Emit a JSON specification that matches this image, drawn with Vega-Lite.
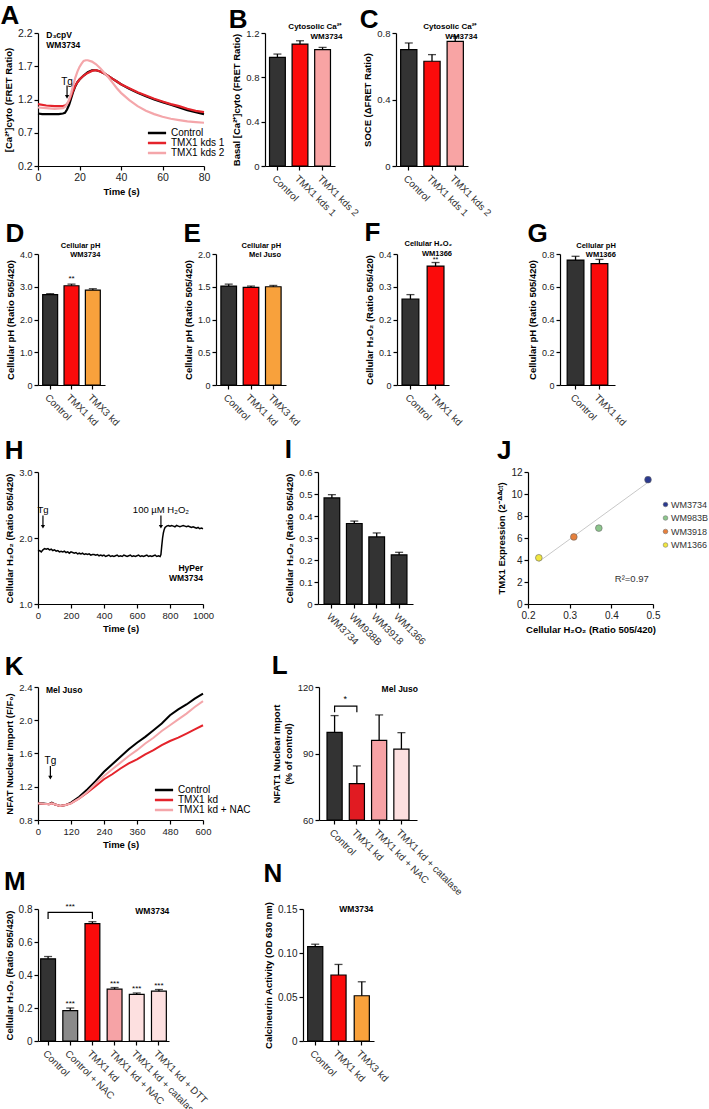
{
 "$schema": "https://vega.github.io/schema/vega-lite/v6.json",
 "background": "white",
 "padding": {"left": 0, "top": 3, "right": 0, "bottom": 0},
 "config": {
  "font": "Liberation Sans",
  "view": {"stroke": null},
  "axis": {"grid": false, "domainColor": "#000", "domainWidth": 1.2, "tickColor": "#000", "tickWidth": 1.2, "tickSize": 4, "tickCount": 20, "labelFontSize": 9.5, "labelColor": "#222", "labelPadding": 2, "labelOverlap": false, "labelFlush": false, "titleFontSize": 9.5, "titleFontWeight": "bold", "titleColor": "#000", "titlePadding": 4},
  "title": {"fontSize": 26, "fontWeight": "bold", "anchor": "start", "frame": "bounds", "color": "#000", "offset": 0},
  "legend": {"labelFontSize": 10, "labelColor": "#000", "padding": 0, "rowPadding": 1}
 },
 "resolve": {"scale": {"color": "independent"}, "legend": {"color": "independent"}},
 "spacing": 2,
 "vconcat": [
  {
   "hconcat": [
    {
     "width": 166, "height": 133,
     "title": {"text": "A", "offset": -1, "dx": -3},
     "layer": [
      {
       "data": {"values": [
        {"s": "Control", "t": 0, "r": 0.99}, {"s": "Control", "t": 2, "r": 0.98}, {"s": "Control", "t": 4, "r": 0.98}, {"s": "Control", "t": 6, "r": 0.98}, {"s": "Control", "t": 8, "r": 0.98}, {"s": "Control", "t": 10, "r": 0.98}, {"s": "Control", "t": 12, "r": 0.99}, {"s": "Control", "t": 13, "r": 1.0}, {"s": "Control", "t": 14, "r": 1.05}, {"s": "Control", "t": 15, "r": 1.12}, {"s": "Control", "t": 16, "r": 1.22}, {"s": "Control", "t": 17, "r": 1.32}, {"s": "Control", "t": 18, "r": 1.4}, {"s": "Control", "t": 19, "r": 1.46}, {"s": "Control", "t": 20, "r": 1.5}, {"s": "Control", "t": 22, "r": 1.56}, {"s": "Control", "t": 24, "r": 1.61}, {"s": "Control", "t": 26, "r": 1.64}, {"s": "Control", "t": 28, "r": 1.64}, {"s": "Control", "t": 30, "r": 1.62}, {"s": "Control", "t": 32, "r": 1.59}, {"s": "Control", "t": 34, "r": 1.55}, {"s": "Control", "t": 36, "r": 1.51}, {"s": "Control", "t": 38, "r": 1.47}, {"s": "Control", "t": 40, "r": 1.43}, {"s": "Control", "t": 44, "r": 1.36}, {"s": "Control", "t": 48, "r": 1.3}, {"s": "Control", "t": 52, "r": 1.25}, {"s": "Control", "t": 56, "r": 1.2}, {"s": "Control", "t": 60, "r": 1.16}, {"s": "Control", "t": 64, "r": 1.12}, {"s": "Control", "t": 68, "r": 1.08}, {"s": "Control", "t": 72, "r": 1.04}, {"s": "Control", "t": 76, "r": 1.01}, {"s": "Control", "t": 80, "r": 0.98},
        {"s": "TMX1 kds 1", "t": 0, "r": 1.13}, {"s": "TMX1 kds 1", "t": 4, "r": 1.11}, {"s": "TMX1 kds 1", "t": 8, "r": 1.1}, {"s": "TMX1 kds 1", "t": 12, "r": 1.1}, {"s": "TMX1 kds 1", "t": 13, "r": 1.11}, {"s": "TMX1 kds 1", "t": 14, "r": 1.13}, {"s": "TMX1 kds 1", "t": 15, "r": 1.18}, {"s": "TMX1 kds 1", "t": 16, "r": 1.26}, {"s": "TMX1 kds 1", "t": 17, "r": 1.34}, {"s": "TMX1 kds 1", "t": 18, "r": 1.41}, {"s": "TMX1 kds 1", "t": 19, "r": 1.46}, {"s": "TMX1 kds 1", "t": 20, "r": 1.5}, {"s": "TMX1 kds 1", "t": 22, "r": 1.56}, {"s": "TMX1 kds 1", "t": 24, "r": 1.6}, {"s": "TMX1 kds 1", "t": 26, "r": 1.63}, {"s": "TMX1 kds 1", "t": 28, "r": 1.64}, {"s": "TMX1 kds 1", "t": 30, "r": 1.62}, {"s": "TMX1 kds 1", "t": 32, "r": 1.59}, {"s": "TMX1 kds 1", "t": 34, "r": 1.55}, {"s": "TMX1 kds 1", "t": 36, "r": 1.51}, {"s": "TMX1 kds 1", "t": 38, "r": 1.47}, {"s": "TMX1 kds 1", "t": 40, "r": 1.43}, {"s": "TMX1 kds 1", "t": 44, "r": 1.37}, {"s": "TMX1 kds 1", "t": 48, "r": 1.31}, {"s": "TMX1 kds 1", "t": 52, "r": 1.26}, {"s": "TMX1 kds 1", "t": 56, "r": 1.21}, {"s": "TMX1 kds 1", "t": 60, "r": 1.17}, {"s": "TMX1 kds 1", "t": 64, "r": 1.13}, {"s": "TMX1 kds 1", "t": 68, "r": 1.1}, {"s": "TMX1 kds 1", "t": 72, "r": 1.06}, {"s": "TMX1 kds 1", "t": 76, "r": 1.03}, {"s": "TMX1 kds 1", "t": 80, "r": 1.01},
        {"s": "TMX1 kds 2", "t": 0, "r": 1.08}, {"s": "TMX1 kds 2", "t": 4, "r": 1.07}, {"s": "TMX1 kds 2", "t": 8, "r": 1.06}, {"s": "TMX1 kds 2", "t": 12, "r": 1.07}, {"s": "TMX1 kds 2", "t": 13, "r": 1.09}, {"s": "TMX1 kds 2", "t": 14, "r": 1.13}, {"s": "TMX1 kds 2", "t": 15, "r": 1.2}, {"s": "TMX1 kds 2", "t": 16, "r": 1.3}, {"s": "TMX1 kds 2", "t": 17, "r": 1.42}, {"s": "TMX1 kds 2", "t": 18, "r": 1.53}, {"s": "TMX1 kds 2", "t": 19, "r": 1.62}, {"s": "TMX1 kds 2", "t": 20, "r": 1.69}, {"s": "TMX1 kds 2", "t": 21, "r": 1.74}, {"s": "TMX1 kds 2", "t": 22, "r": 1.78}, {"s": "TMX1 kds 2", "t": 23, "r": 1.79}, {"s": "TMX1 kds 2", "t": 24, "r": 1.79}, {"s": "TMX1 kds 2", "t": 26, "r": 1.77}, {"s": "TMX1 kds 2", "t": 28, "r": 1.73}, {"s": "TMX1 kds 2", "t": 30, "r": 1.67}, {"s": "TMX1 kds 2", "t": 32, "r": 1.6}, {"s": "TMX1 kds 2", "t": 34, "r": 1.53}, {"s": "TMX1 kds 2", "t": 36, "r": 1.45}, {"s": "TMX1 kds 2", "t": 38, "r": 1.37}, {"s": "TMX1 kds 2", "t": 40, "r": 1.3}, {"s": "TMX1 kds 2", "t": 44, "r": 1.19}, {"s": "TMX1 kds 2", "t": 48, "r": 1.1}, {"s": "TMX1 kds 2", "t": 52, "r": 1.03}, {"s": "TMX1 kds 2", "t": 56, "r": 0.98}, {"s": "TMX1 kds 2", "t": 60, "r": 0.94}, {"s": "TMX1 kds 2", "t": 64, "r": 0.91}, {"s": "TMX1 kds 2", "t": 68, "r": 0.89}, {"s": "TMX1 kds 2", "t": 72, "r": 0.87}, {"s": "TMX1 kds 2", "t": 76, "r": 0.86}, {"s": "TMX1 kds 2", "t": 80, "r": 0.85}
       ]},
       "mark": {"type": "line", "strokeWidth": 2.2},
       "encoding": {
        "x": {"field": "t", "type": "quantitative", "scale": {"domain": [0, 80], "nice": false}, "axis": {"title": "Time (s)", "values": [0, 20, 40, 60, 80], "tickCount": 20, "labelFontSize": 10.5, "titleFontSize": 9.5}},
        "y": {"field": "r", "type": "quantitative", "scale": {"domain": [0.2, 2.2], "nice": false, "zero": false}, "axis": {"title": "[Ca²⁺]cyto (FRET Ratio)", "values": [0.2, 0.7, 1.2, 1.7, 2.2], "tickCount": 20, "format": ".1f", "labelFontSize": 10.5}},
        "color": {"field": "s", "type": "nominal", "scale": {"domain": ["Control", "TMX1 kds 1", "TMX1 kds 2"], "range": ["#000000", "#e4232b", "#f4a6aa"]}, "legend": {"title": null, "orient": "none", "legendX": 114, "legendY": 95, "symbolType": "M-2.6,0H2.6", "symbolStrokeWidth": 2.5, "symbolSize": 49, "labelFontSize": 10, "labelOffset": 9, "rowPadding": -1.5}}
       }
      },
      {"data": {"values": [{"x": 14, "yt": 1.47, "y1": 1.41, "y2": 1.24, "lab": "Tg"}]},
       "layer": [
        {"mark": {"type": "text", "fontSize": 10, "baseline": "middle", "color": "#000"}, "encoding": {"x": {"field": "x", "type": "quantitative"}, "y": {"field": "yt", "type": "quantitative"}, "text": {"field": "lab"}}},
        {"mark": {"type": "rule", "strokeWidth": 1.2, "color": "#000"}, "encoding": {"x": {"field": "x", "type": "quantitative"}, "y": {"field": "y1", "type": "quantitative"}, "y2": {"field": "y2"}}},
        {"mark": {"type": "point", "shape": "triangle-down", "filled": true, "size": 18, "color": "#000", "opacity": 1}, "encoding": {"x": {"field": "x", "type": "quantitative"}, "y": {"field": "y2", "type": "quantitative"}}}
       ]},
      {"data": {"values": [{"x": 4, "y": 2.2, "t": "D₃cpV\nWM3734"}]},
       "mark": {"type": "text", "align": "left", "baseline": "top", "fontWeight": "bold", "fontSize": 8.5, "lineBreak": "\n", "lineHeight": 10, "dy": -2, "color": "#000"},
       "encoding": {"x": {"field": "x", "type": "quantitative"}, "y": {"field": "y", "type": "quantitative"}, "text": {"field": "t"}}}
     ]
    },
    {
     "width": 70, "height": 133,
     "title": {"text": "B", "offset": -10, "dx": -3},
     "data": {"values": [
      {"g": "Control", "v": 0.98, "hi": 1.01},
      {"g": "TMX1 kds 1", "v": 1.1, "hi": 1.13},
      {"g": "TMX1 kds 2", "v": 1.05, "hi": 1.07}
     ]},
     "encoding": {"x": {"field": "g", "type": "nominal", "sort": null, "scale": {"paddingInner": 0.3, "paddingOuter": 0.2}, "axis": {"title": null, "labelAngle": 45, "labelFontSize": 10, "labelColor": "#333", "labelPadding": 3}}},
     "layer": [
      {"mark": {"type": "bar", "stroke": "#000", "strokeWidth": 1.2}, "encoding": {"y": {"field": "v", "type": "quantitative", "scale": {"domain": [0, 1.2], "nice": false}, "axis": {"title": "Basal [Ca²⁺]cyto (FRET Ratio)", "values": [0, 0.4, 0.8, 1.2], "tickCount": 20, "labelExpr": "datum.value == 0 ? '0' : format(datum.value, '.1f')"}}, "color": {"field": "g", "type": "nominal", "scale": {"domain": ["Control", "TMX1 kds 1", "TMX1 kds 2"], "range": ["#333333", "#fb0b0b", "#f8a4a4"]}, "legend": null}}},
      {"mark": {"type": "rule", "color": "#000", "strokeWidth": 1.3}, "encoding": {"y": {"field": "v", "type": "quantitative"}, "y2": {"field": "hi"}}},
      {"mark": {"type": "tick", "color": "#000", "thickness": 1.3, "size": 8}, "encoding": {"y": {"field": "hi", "type": "quantitative"}}},
      {"data": {"values": [{"g": "TMX1 kds 2", "y": 1.2, "t": "Cytosolic Ca²⁺\nWM3734"}]},
       "mark": {"type": "text", "align": "right", "baseline": "bottom", "fontWeight": "bold", "fontSize": 8, "lineBreak": "\n", "lineHeight": 9.5, "dy": -2, "dx": 12, "color": "#000"},
       "encoding": {"x": {"field": "g", "type": "nominal", "sort": null, "bandPosition": 1}, "y": {"field": "y", "type": "quantitative"}, "text": {"field": "t"}}}
     ]
    },
    {
     "width": 72, "height": 133,
     "title": {"text": "C", "offset": -10, "dx": -3},
     "data": {"values": [
      {"g": "Control", "v": 0.7, "hi": 0.74},
      {"g": "TMX1 kds 1", "v": 0.63, "hi": 0.67},
      {"g": "TMX1 kds 2", "v": 0.75, "hi": 0.78}
     ]},
     "encoding": {"x": {"field": "g", "type": "nominal", "sort": null, "scale": {"paddingInner": 0.3, "paddingOuter": 0.2}, "axis": {"title": null, "labelAngle": 45, "labelFontSize": 10, "labelColor": "#333", "labelPadding": 3}}},
     "layer": [
      {"mark": {"type": "bar", "stroke": "#000", "strokeWidth": 1.2}, "encoding": {"y": {"field": "v", "type": "quantitative", "scale": {"domain": [0, 0.8], "nice": false}, "axis": {"title": "SOCE (ΔFRET Ratio)", "values": [0, 0.4, 0.8], "tickCount": 20, "labelExpr": "datum.value == 0 ? '0' : format(datum.value, '.1f')"}}, "color": {"field": "g", "type": "nominal", "scale": {"domain": ["Control", "TMX1 kds 1", "TMX1 kds 2"], "range": ["#333333", "#fb0b0b", "#f8a4a4"]}, "legend": null}}},
      {"mark": {"type": "rule", "color": "#000", "strokeWidth": 1.3}, "encoding": {"y": {"field": "v", "type": "quantitative"}, "y2": {"field": "hi"}}},
      {"mark": {"type": "tick", "color": "#000", "thickness": 1.3, "size": 8}, "encoding": {"y": {"field": "hi", "type": "quantitative"}}},
      {"data": {"values": [{"g": "TMX1 kds 2", "y": 0.8, "t": "Cytosolic Ca²⁺\nWM3734"}]},
       "mark": {"type": "text", "align": "right", "baseline": "bottom", "fontWeight": "bold", "fontSize": 8, "lineBreak": "\n", "lineHeight": 9.5, "dy": -2, "dx": 14, "color": "#000"},
       "encoding": {"x": {"field": "g", "type": "nominal", "sort": null, "bandPosition": 1}, "y": {"field": "y", "type": "quantitative"}, "text": {"field": "t"}}}
     ]
    }
   ],
   "spacing": 61, "bounds": "flush",
   "resolve": {"scale": {"color": "independent"}, "legend": {"color": "independent"}}
  },
  {
   "spacing": 9,
   "resolve": {"scale": {"color": "independent"}, "legend": {"color": "independent"}},
   "vconcat": [
    {
     "hconcat": [
      {
       "width": 67, "height": 131,
       "title": {"text": "D", "offset": -5},
       "data": {"values": [
        {"g": "Control", "v": 2.76, "hi": 2.79, "s": ""},
        {"g": "TMX1 kd", "v": 3.03, "hi": 3.08, "s": "**"},
        {"g": "TMX3 kd", "v": 2.9, "hi": 2.94, "s": ""}
       ]},
       "encoding": {"x": {"field": "g", "type": "nominal", "sort": null, "scale": {"paddingInner": 0.3, "paddingOuter": 0.22}, "axis": {"title": null, "labelAngle": 45, "labelFontSize": 10, "labelColor": "#333", "labelPadding": 3}}},
       "layer": [
        {"mark": {"type": "bar", "stroke": "#000", "strokeWidth": 1.2}, "encoding": {"y": {"field": "v", "type": "quantitative", "scale": {"domain": [0, 4], "nice": false}, "axis": {"title": "Cellular pH (Ratio 505/420)", "values": [0, 1, 2, 3, 4], "tickCount": 20, "labelFontSize": 9, "labelExpr": "datum.value == 0 ? '0' : format(datum.value, '.1f')"}}, "color": {"field": "g", "type": "nominal", "scale": {"domain": ["Control", "TMX1 kd", "TMX3 kd"], "range": ["#333333", "#fb0b0b", "#f8a13c"]}, "legend": null}}},
        {"mark": {"type": "rule", "color": "#000", "strokeWidth": 1.3}, "encoding": {"y": {"field": "v", "type": "quantitative"}, "y2": {"field": "hi"}}},
        {"mark": {"type": "tick", "color": "#000", "thickness": 1.3, "size": 8}, "encoding": {"y": {"field": "hi", "type": "quantitative"}}},
        {"mark": {"type": "text", "baseline": "bottom", "fontSize": 8, "dy": -1, "color": "#000"}, "encoding": {"y": {"field": "hi", "type": "quantitative"}, "text": {"field": "s"}}},
        {"data": {"values": [{"g": "TMX3 kd", "y": 4, "t": "Cellular pH\nWM3734"}]},
         "mark": {"type": "text", "align": "right", "baseline": "bottom", "fontWeight": "bold", "fontSize": 7.5, "lineBreak": "\n", "lineHeight": 9, "dy": -4, "dx": 0, "color": "#000"},
         "encoding": {"x": {"field": "g", "type": "nominal", "sort": null, "bandPosition": 1}, "y": {"field": "y", "type": "quantitative"}, "text": {"field": "t"}}}
       ]
      },
      {
       "width": 70, "height": 131,
       "title": {"text": "E", "offset": -5},
       "data": {"values": [
        {"g": "Control", "v": 1.51, "hi": 1.54},
        {"g": "TMX1 kd", "v": 1.49, "hi": 1.51},
        {"g": "TMX3 kd", "v": 1.5, "hi": 1.52}
       ]},
       "encoding": {"x": {"field": "g", "type": "nominal", "sort": null, "scale": {"paddingInner": 0.3, "paddingOuter": 0.22}, "axis": {"title": null, "labelAngle": 45, "labelFontSize": 10, "labelColor": "#333", "labelPadding": 3}}},
       "layer": [
        {"mark": {"type": "bar", "stroke": "#000", "strokeWidth": 1.2}, "encoding": {"y": {"field": "v", "type": "quantitative", "scale": {"domain": [0, 2], "nice": false}, "axis": {"title": "Cellular pH (Ratio 505/420)", "values": [0, 0.5, 1, 1.5, 2], "tickCount": 20, "labelFontSize": 9, "labelExpr": "datum.value == 0 ? '0' : format(datum.value, '.1f')"}}, "color": {"field": "g", "type": "nominal", "scale": {"domain": ["Control", "TMX1 kd", "TMX3 kd"], "range": ["#333333", "#fb0b0b", "#f8a13c"]}, "legend": null}}},
        {"mark": {"type": "rule", "color": "#000", "strokeWidth": 1.3}, "encoding": {"y": {"field": "v", "type": "quantitative"}, "y2": {"field": "hi"}}},
        {"mark": {"type": "tick", "color": "#000", "thickness": 1.3, "size": 8}, "encoding": {"y": {"field": "hi", "type": "quantitative"}}},
        {"data": {"values": [{"g": "TMX3 kd", "y": 2, "t": "Cellular pH\nMel Juso"}]},
         "mark": {"type": "text", "align": "right", "baseline": "bottom", "fontWeight": "bold", "fontSize": 7.5, "lineBreak": "\n", "lineHeight": 9, "dy": -4, "dx": 0, "color": "#000"},
         "encoding": {"x": {"field": "g", "type": "nominal", "sort": null, "bandPosition": 1}, "y": {"field": "y", "type": "quantitative"}, "text": {"field": "t"}}}
       ]
      },
      {
       "width": 52, "height": 131,
       "title": {"text": "F", "offset": -6},
       "data": {"values": [
        {"g": "Control", "v": 0.262, "hi": 0.276, "s": ""},
        {"g": "TMX1 kd", "v": 0.363, "hi": 0.374, "s": "**"}
       ]},
       "encoding": {"x": {"field": "g", "type": "nominal", "sort": null, "scale": {"paddingInner": 0.33, "paddingOuter": 0.2}, "axis": {"title": null, "labelAngle": 45, "labelFontSize": 10, "labelColor": "#333", "labelPadding": 3}}},
       "layer": [
        {"mark": {"type": "bar", "stroke": "#000", "strokeWidth": 1.2}, "encoding": {"y": {"field": "v", "type": "quantitative", "scale": {"domain": [0, 0.4], "nice": false}, "axis": {"title": "Cellular H₂O₂ (Ratio 505/420)", "values": [0, 0.1, 0.2, 0.3, 0.4], "tickCount": 20, "labelFontSize": 9, "labelExpr": "datum.value == 0 ? '0' : format(datum.value, '.1f')"}}, "color": {"field": "g", "type": "nominal", "scale": {"domain": ["Control", "TMX1 kd"], "range": ["#333333", "#fb0b0b"]}, "legend": null}}},
        {"mark": {"type": "rule", "color": "#000", "strokeWidth": 1.3}, "encoding": {"y": {"field": "v", "type": "quantitative"}, "y2": {"field": "hi"}}},
        {"mark": {"type": "tick", "color": "#000", "thickness": 1.3, "size": 8}, "encoding": {"y": {"field": "hi", "type": "quantitative"}}},
        {"mark": {"type": "text", "baseline": "bottom", "fontSize": 7, "dy": 0, "color": "#000"}, "encoding": {"y": {"field": "hi", "type": "quantitative"}, "text": {"field": "s"}}},
        {"data": {"values": [{"g": "TMX1 kd", "y": 0.4, "t": "Cellular H₂O₂\nWM1366"}]},
         "mark": {"type": "text", "align": "right", "baseline": "bottom", "fontWeight": "bold", "fontSize": 7.5, "lineBreak": "\n", "lineHeight": 9.5, "dy": -6, "dx": 8, "color": "#000"},
         "encoding": {"x": {"field": "g", "type": "nominal", "sort": null, "bandPosition": 1}, "y": {"field": "y", "type": "quantitative"}, "text": {"field": "t"}}}
       ]
      },
      {
       "width": 55, "height": 131,
       "title": {"text": "G", "offset": -5},
       "data": {"values": [
        {"g": "Control", "v": 0.763, "hi": 0.786},
        {"g": "TMX1 kd", "v": 0.741, "hi": 0.767}
       ]},
       "encoding": {"x": {"field": "g", "type": "nominal", "sort": null, "scale": {"paddingInner": 0.3, "paddingOuter": 0.3}, "axis": {"title": null, "labelAngle": 45, "labelFontSize": 10, "labelColor": "#333", "labelPadding": 3}}},
       "layer": [
        {"mark": {"type": "bar", "stroke": "#000", "strokeWidth": 1.2}, "encoding": {"y": {"field": "v", "type": "quantitative", "scale": {"domain": [0, 0.8], "nice": false}, "axis": {"title": "Cellular pH (Ratio 505/420)", "values": [0, 0.2, 0.4, 0.6, 0.8], "tickCount": 20, "labelFontSize": 9, "labelExpr": "datum.value == 0 ? '0' : format(datum.value, '.1f')"}}, "color": {"field": "g", "type": "nominal", "scale": {"domain": ["Control", "TMX1 kd"], "range": ["#333333", "#fb0b0b"]}, "legend": null}}},
        {"mark": {"type": "rule", "color": "#000", "strokeWidth": 1.3}, "encoding": {"y": {"field": "v", "type": "quantitative"}, "y2": {"field": "hi"}}},
        {"mark": {"type": "tick", "color": "#000", "thickness": 1.3, "size": 8}, "encoding": {"y": {"field": "hi", "type": "quantitative"}}},
        {"data": {"values": [{"g": "TMX1 kd", "y": 0.8, "t": "Cellular pH\nWM1366"}]},
         "mark": {"type": "text", "align": "right", "baseline": "bottom", "fontWeight": "bold", "fontSize": 7.5, "lineBreak": "\n", "lineHeight": 9, "dy": -4, "dx": 8, "color": "#000"},
         "encoding": {"x": {"field": "g", "type": "nominal", "sort": null, "bandPosition": 1}, "y": {"field": "y", "type": "quantitative"}, "text": {"field": "t"}}}
       ]
      }
     ],
     "spacing": 111, "bounds": "flush",
     "resolve": {"scale": {"color": "independent"}, "legend": {"color": "independent"}}
    },
    {
     "spacing": 5,
     "resolve": {"scale": {"color": "independent"}, "legend": {"color": "independent"}},
     "vconcat": [
      {
       "hconcat": [
        {
         "width": 165, "height": 132,
         "title": {"text": "H", "offset": 3},
         "layer": [
          {
           "data": {"values": [
            {"t": 0, "r": 1.8}, {"t": 10, "r": 1.81}, {"t": 20, "r": 1.79}, {"t": 30, "r": 1.82}, {"t": 40, "r": 1.84}, {"t": 50, "r": 1.83}, {"t": 60, "r": 1.84}, {"t": 70, "r": 1.82}, {"t": 80, "r": 1.83}, {"t": 90, "r": 1.81}, {"t": 100, "r": 1.82}, {"t": 110, "r": 1.8}, {"t": 120, "r": 1.81}, {"t": 130, "r": 1.79}, {"t": 140, "r": 1.8}, {"t": 150, "r": 1.79}, {"t": 160, "r": 1.8}, {"t": 170, "r": 1.78}, {"t": 180, "r": 1.79}, {"t": 190, "r": 1.77}, {"t": 200, "r": 1.79}, {"t": 210, "r": 1.78}, {"t": 220, "r": 1.77}, {"t": 230, "r": 1.78}, {"t": 240, "r": 1.76}, {"t": 250, "r": 1.77}, {"t": 260, "r": 1.76}, {"t": 270, "r": 1.77}, {"t": 280, "r": 1.75}, {"t": 290, "r": 1.76}, {"t": 300, "r": 1.75}, {"t": 310, "r": 1.76}, {"t": 320, "r": 1.74}, {"t": 330, "r": 1.75}, {"t": 340, "r": 1.75}, {"t": 350, "r": 1.74}, {"t": 360, "r": 1.75}, {"t": 370, "r": 1.73}, {"t": 380, "r": 1.74}, {"t": 390, "r": 1.73}, {"t": 400, "r": 1.74}, {"t": 410, "r": 1.72}, {"t": 420, "r": 1.73}, {"t": 430, "r": 1.74}, {"t": 440, "r": 1.72}, {"t": 450, "r": 1.73}, {"t": 460, "r": 1.72}, {"t": 470, "r": 1.73}, {"t": 480, "r": 1.74}, {"t": 490, "r": 1.72}, {"t": 500, "r": 1.73}, {"t": 510, "r": 1.72}, {"t": 520, "r": 1.74}, {"t": 530, "r": 1.73}, {"t": 540, "r": 1.72}, {"t": 550, "r": 1.73}, {"t": 560, "r": 1.74}, {"t": 570, "r": 1.72}, {"t": 580, "r": 1.73}, {"t": 590, "r": 1.72}, {"t": 600, "r": 1.73}, {"t": 610, "r": 1.74}, {"t": 620, "r": 1.72}, {"t": 630, "r": 1.73}, {"t": 640, "r": 1.72}, {"t": 650, "r": 1.73}, {"t": 660, "r": 1.74}, {"t": 670, "r": 1.72}, {"t": 680, "r": 1.73}, {"t": 690, "r": 1.72}, {"t": 700, "r": 1.73}, {"t": 710, "r": 1.74}, {"t": 720, "r": 1.72}, {"t": 730, "r": 1.73}, {"t": 740, "r": 1.72}, {"t": 745, "r": 1.75}, {"t": 750, "r": 1.88}, {"t": 755, "r": 2.0}, {"t": 760, "r": 2.08}, {"t": 765, "r": 2.13}, {"t": 770, "r": 2.16}, {"t": 780, "r": 2.18}, {"t": 790, "r": 2.19}, {"t": 800, "r": 2.18}, {"t": 810, "r": 2.19}, {"t": 820, "r": 2.18}, {"t": 830, "r": 2.17}, {"t": 840, "r": 2.19}, {"t": 850, "r": 2.18}, {"t": 860, "r": 2.17}, {"t": 870, "r": 2.18}, {"t": 880, "r": 2.19}, {"t": 890, "r": 2.18}, {"t": 900, "r": 2.17}, {"t": 910, "r": 2.18}, {"t": 920, "r": 2.17}, {"t": 930, "r": 2.16}, {"t": 940, "r": 2.17}, {"t": 950, "r": 2.16}, {"t": 960, "r": 2.15}, {"t": 970, "r": 2.16}, {"t": 980, "r": 2.14}, {"t": 990, "r": 2.15}, {"t": 1000, "r": 2.14}
           ]},
           "mark": {"type": "line", "strokeWidth": 1.5, "color": "#000"},
           "encoding": {
            "x": {"field": "t", "type": "quantitative", "scale": {"domain": [0, 1000], "nice": false}, "axis": {"title": "Time (s)", "values": [0, 200, 400, 600, 800, 1000], "tickCount": 20, "format": "d"}},
            "y": {"field": "r", "type": "quantitative", "scale": {"domain": [1, 3], "nice": false, "zero": false}, "axis": {"title": "Cellular H₂O₂ (Ratio 505/420)", "values": [1, 2, 3], "tickCount": 20, "format": ".1f"}}
           }
          },
          {"data": {"values": [{"x": 30, "yt": 2.42, "y1": 2.34, "y2": 2.17, "lab": "Tg"}, {"x": 745, "yt": 2.42, "y1": 2.34, "y2": 2.17, "lab": "100 µM H₂O₂"}]},
           "layer": [
            {"mark": {"type": "text", "fontSize": 9.5, "baseline": "middle", "color": "#000"}, "encoding": {"x": {"field": "x", "type": "quantitative"}, "y": {"field": "yt", "type": "quantitative"}, "text": {"field": "lab"}}},
            {"mark": {"type": "rule", "strokeWidth": 1.2, "color": "#000"}, "encoding": {"x": {"field": "x", "type": "quantitative"}, "y": {"field": "y1", "type": "quantitative"}, "y2": {"field": "y2"}}},
            {"mark": {"type": "point", "shape": "triangle-down", "filled": true, "size": 18, "color": "#000", "opacity": 1}, "encoding": {"x": {"field": "x", "type": "quantitative"}, "y": {"field": "y2", "type": "quantitative"}}}
           ]},
          {"data": {"values": [{"x": 1000, "y": 1.55, "t": "HyPer"}, {"x": 1000, "y": 1.4, "t": "WM3734"}]},
           "mark": {"type": "text", "align": "right", "baseline": "middle", "fontWeight": "bold", "fontSize": 8.5, "color": "#000"},
           "encoding": {"x": {"field": "x", "type": "quantitative"}, "y": {"field": "y", "type": "quantitative"}, "text": {"field": "t"}}}
         ]
        },
        {
         "width": 95, "height": 132,
         "title": {"text": "I", "offset": 4},
         "data": {"values": [
          {"g": "WM3734", "v": 0.482, "hi": 0.497},
          {"g": "WM938B", "v": 0.366, "hi": 0.377},
          {"g": "WM3918", "v": 0.305, "hi": 0.323},
          {"g": "WM1366", "v": 0.223, "hi": 0.235}
         ]},
         "encoding": {"x": {"field": "g", "type": "nominal", "sort": null, "scale": {"paddingInner": 0.3, "paddingOuter": 0.27}, "axis": {"title": null, "labelAngle": 45, "labelFontSize": 10, "labelColor": "#333", "labelPadding": 3}}},
         "layer": [
          {"mark": {"type": "bar", "stroke": "#000", "strokeWidth": 1.2, "color": "#333333"}, "encoding": {"y": {"field": "v", "type": "quantitative", "scale": {"domain": [0, 0.6], "nice": false}, "axis": {"title": "Cellular H₂O₂ (Ratio 505/420)", "values": [0, 0.1, 0.2, 0.3, 0.4, 0.5, 0.6], "tickCount": 20, "labelExpr": "datum.value == 0 ? '0' : format(datum.value, '.1f')"}}}},
          {"mark": {"type": "rule", "color": "#000", "strokeWidth": 1.3}, "encoding": {"y": {"field": "v", "type": "quantitative"}, "y2": {"field": "hi"}}},
          {"mark": {"type": "tick", "color": "#000", "thickness": 1.3, "size": 8}, "encoding": {"y": {"field": "hi", "type": "quantitative"}}}
         ]
        },
        {
         "width": 125, "height": 132,
         "title": {"text": "J", "offset": 3},
         "layer": [
          {"data": {"values": [{"x": 0.226, "y": 3.85}, {"x": 0.486, "y": 11.0}]},
           "mark": {"type": "line", "color": "#c8c8c8", "strokeWidth": 1},
           "encoding": {"x": {"field": "x", "type": "quantitative", "scale": {"domain": [0.2, 0.5], "nice": false, "zero": false}, "axis": {"title": "Cellular H₂O₂ (Ratio 505/420)", "values": [0.2, 0.3, 0.4, 0.5], "tickCount": 20, "format": ".1f", "labelFontSize": 10}}, "y": {"field": "y", "type": "quantitative", "scale": {"domain": [0, 12], "nice": false}, "axis": {"title": "TMX1 Expression (2⁻ᐞᐞᶜᵗ)", "values": [0, 2, 4, 6, 8, 10, 12], "tickCount": 20, "format": "d", "labelFontSize": 10}}}},
          {"data": {"values": [
            {"line": "WM3734", "x": 0.488, "y": 11.3},
            {"line": "WM983B", "x": 0.37, "y": 6.9},
            {"line": "WM3918", "x": 0.31, "y": 6.1},
            {"line": "WM1366", "x": 0.226, "y": 4.2}
           ]},
           "mark": {"type": "point", "filled": true, "size": 45, "opacity": 1, "stroke": "#666", "strokeWidth": 0.6},
           "encoding": {"x": {"field": "x", "type": "quantitative"}, "y": {"field": "y", "type": "quantitative"}, "color": {"field": "line", "type": "nominal", "scale": {"domain": ["WM3734", "WM983B", "WM3918", "WM1366"], "range": ["#2b3a8f", "#8cc68c", "#e6803c", "#f1e63e"]}, "legend": {"title": null, "orient": "none", "legendX": 133, "legendY": 28, "symbolSize": 22, "labelFontSize": 9, "labelColor": "#333", "rowPadding": 3.5, "labelOffset": 1, "symbolStrokeWidth": 0.5, "symbolStrokeColor": "#666"}}}},
          {"data": {"values": [{"x": 0.49, "y": 2.3, "t": "R²=0.97"}]},
           "mark": {"type": "text", "align": "right", "baseline": "middle", "fontSize": 9.5, "color": "#333"},
           "encoding": {"x": {"field": "x", "type": "quantitative"}, "y": {"field": "y", "type": "quantitative"}, "text": {"field": "t"}}}
         ]
        }
       ],
       "spacing": 115, "bounds": "flush",
       "resolve": {"scale": {"color": "independent"}, "legend": {"color": "independent"}}
      },
      {
       "spacing": -36,
       "resolve": {"scale": {"color": "independent"}, "legend": {"color": "independent"}},
       "vconcat": [
        {
         "hconcat": [
          {
           "width": 165, "height": 133,
           "title": {"text": "K", "offset": 2},
           "layer": [
            {
             "data": {"values": [
              {"s": "Control", "t": 0, "r": 1.0}, {"s": "Control", "t": 20, "r": 1.0}, {"s": "Control", "t": 40, "r": 0.99}, {"s": "Control", "t": 50, "r": 1.01}, {"s": "Control", "t": 60, "r": 0.99}, {"s": "Control", "t": 80, "r": 0.97}, {"s": "Control", "t": 100, "r": 0.98}, {"s": "Control", "t": 120, "r": 1.01}, {"s": "Control", "t": 150, "r": 1.08}, {"s": "Control", "t": 180, "r": 1.17}, {"s": "Control", "t": 210, "r": 1.27}, {"s": "Control", "t": 240, "r": 1.38}, {"s": "Control", "t": 270, "r": 1.47}, {"s": "Control", "t": 300, "r": 1.56}, {"s": "Control", "t": 330, "r": 1.65}, {"s": "Control", "t": 360, "r": 1.73}, {"s": "Control", "t": 390, "r": 1.8}, {"s": "Control", "t": 420, "r": 1.88}, {"s": "Control", "t": 450, "r": 1.96}, {"s": "Control", "t": 480, "r": 2.06}, {"s": "Control", "t": 510, "r": 2.13}, {"s": "Control", "t": 540, "r": 2.19}, {"s": "Control", "t": 570, "r": 2.26}, {"s": "Control", "t": 600, "r": 2.32},
              {"s": "TMX1 kd", "t": 0, "r": 1.0}, {"s": "TMX1 kd", "t": 40, "r": 0.99}, {"s": "TMX1 kd", "t": 50, "r": 1.0}, {"s": "TMX1 kd", "t": 60, "r": 0.99}, {"s": "TMX1 kd", "t": 80, "r": 0.97}, {"s": "TMX1 kd", "t": 100, "r": 0.98}, {"s": "TMX1 kd", "t": 120, "r": 1.0}, {"s": "TMX1 kd", "t": 150, "r": 1.06}, {"s": "TMX1 kd", "t": 180, "r": 1.13}, {"s": "TMX1 kd", "t": 210, "r": 1.21}, {"s": "TMX1 kd", "t": 240, "r": 1.29}, {"s": "TMX1 kd", "t": 270, "r": 1.35}, {"s": "TMX1 kd", "t": 300, "r": 1.42}, {"s": "TMX1 kd", "t": 330, "r": 1.48}, {"s": "TMX1 kd", "t": 360, "r": 1.53}, {"s": "TMX1 kd", "t": 390, "r": 1.59}, {"s": "TMX1 kd", "t": 420, "r": 1.64}, {"s": "TMX1 kd", "t": 450, "r": 1.7}, {"s": "TMX1 kd", "t": 480, "r": 1.75}, {"s": "TMX1 kd", "t": 510, "r": 1.79}, {"s": "TMX1 kd", "t": 540, "r": 1.84}, {"s": "TMX1 kd", "t": 570, "r": 1.89}, {"s": "TMX1 kd", "t": 600, "r": 1.94},
              {"s": "TMX1 kd + NAC", "t": 0, "r": 1.0}, {"s": "TMX1 kd + NAC", "t": 40, "r": 0.99}, {"s": "TMX1 kd + NAC", "t": 50, "r": 1.0}, {"s": "TMX1 kd + NAC", "t": 60, "r": 0.99}, {"s": "TMX1 kd + NAC", "t": 80, "r": 0.97}, {"s": "TMX1 kd + NAC", "t": 100, "r": 0.98}, {"s": "TMX1 kd + NAC", "t": 120, "r": 1.0}, {"s": "TMX1 kd + NAC", "t": 150, "r": 1.06}, {"s": "TMX1 kd + NAC", "t": 180, "r": 1.14}, {"s": "TMX1 kd + NAC", "t": 210, "r": 1.24}, {"s": "TMX1 kd + NAC", "t": 240, "r": 1.33}, {"s": "TMX1 kd + NAC", "t": 270, "r": 1.41}, {"s": "TMX1 kd + NAC", "t": 300, "r": 1.49}, {"s": "TMX1 kd + NAC", "t": 330, "r": 1.57}, {"s": "TMX1 kd + NAC", "t": 360, "r": 1.64}, {"s": "TMX1 kd + NAC", "t": 390, "r": 1.72}, {"s": "TMX1 kd + NAC", "t": 420, "r": 1.79}, {"s": "TMX1 kd + NAC", "t": 450, "r": 1.87}, {"s": "TMX1 kd + NAC", "t": 480, "r": 1.94}, {"s": "TMX1 kd + NAC", "t": 510, "r": 2.01}, {"s": "TMX1 kd + NAC", "t": 540, "r": 2.08}, {"s": "TMX1 kd + NAC", "t": 570, "r": 2.16}, {"s": "TMX1 kd + NAC", "t": 600, "r": 2.23}
             ]},
             "mark": {"type": "line", "strokeWidth": 2},
             "encoding": {
              "x": {"field": "t", "type": "quantitative", "scale": {"domain": [0, 600], "nice": false}, "axis": {"title": "Time (s)", "values": [0, 120, 240, 360, 480, 600], "tickCount": 20}},
              "y": {"field": "r", "type": "quantitative", "scale": {"domain": [0.8, 2.4], "nice": false, "zero": false}, "axis": {"title": "NFAT Nuclear Import (F/F₀)", "values": [0.8, 1.2, 1.6, 2.0, 2.4], "tickCount": 20, "format": ".1f"}},
              "color": {"field": "s", "type": "nominal", "scale": {"domain": ["Control", "TMX1 kd", "TMX1 kd + NAC"], "range": ["#000000", "#e4232b", "#f4a6aa"]}, "legend": {"title": null, "orient": "none", "legendX": 121, "legendY": 98, "symbolType": "M-2.6,0H2.6", "symbolStrokeWidth": 2.5, "symbolSize": 49, "labelFontSize": 10, "labelOffset": 9, "rowPadding": -1.5}}
             }
            },
            {"data": {"values": [{"x": 45, "yt": 1.51, "y1": 1.45, "y2": 1.31, "lab": "Tg"}]},
             "layer": [
              {"mark": {"type": "text", "fontSize": 10, "baseline": "middle", "color": "#000"}, "encoding": {"x": {"field": "x", "type": "quantitative"}, "y": {"field": "yt", "type": "quantitative"}, "text": {"field": "lab"}}},
              {"mark": {"type": "rule", "strokeWidth": 1.2, "color": "#000"}, "encoding": {"x": {"field": "x", "type": "quantitative"}, "y": {"field": "y1", "type": "quantitative"}, "y2": {"field": "y2"}}},
              {"mark": {"type": "point", "shape": "triangle-down", "filled": true, "size": 18, "color": "#000", "opacity": 1}, "encoding": {"x": {"field": "x", "type": "quantitative"}, "y": {"field": "y2", "type": "quantitative"}}}
             ]},
            {"data": {"values": [{"x": 29, "y": 2.4, "t": "Mel Juso"}]},
             "mark": {"type": "text", "align": "left", "baseline": "top", "fontWeight": "bold", "fontSize": 8.5, "dy": -1, "color": "#000"},
             "encoding": {"x": {"field": "x", "type": "quantitative"}, "y": {"field": "y", "type": "quantitative"}, "text": {"field": "t"}}}
           ]
          },
          {
           "width": 98, "height": 133,
           "title": {"text": "L", "offset": 3},
           "data": {"values": [
            {"g": "Control", "v": 99.5, "hi": 107.1},
            {"g": "TMX1 kd", "v": 76.4, "hi": 84.4},
            {"g": "TMX1 kd + NAC", "v": 95.9, "hi": 107.4},
            {"g": "TMX1 kd + catalase", "v": 92.0, "hi": 99.4}
           ]},
           "encoding": {"x": {"field": "g", "type": "nominal", "sort": null, "scale": {"paddingInner": 0.32, "paddingOuter": 0.36}, "axis": {"title": null, "labelAngle": 45, "labelFontSize": 10, "labelColor": "#333", "labelPadding": 3}}},
           "layer": [
            {"mark": {"type": "bar", "stroke": "#000", "strokeWidth": 1.2}, "encoding": {"y": {"field": "v", "type": "quantitative", "scale": {"domain": [60, 120], "nice": false, "zero": false}, "axis": {"title": ["NFAT1 Nuclear Import", "(% of control)"], "values": [60, 90, 120], "tickCount": 20}}, "y2": {"datum": 60}, "color": {"field": "g", "type": "nominal", "scale": {"domain": ["Control", "TMX1 kd", "TMX1 kd + NAC", "TMX1 kd + catalase"], "range": ["#333333", "#e11b22", "#f7a2a5", "#fde0e0"]}, "legend": null}}},
            {"mark": {"type": "rule", "color": "#000", "strokeWidth": 1.3}, "encoding": {"y": {"field": "v", "type": "quantitative"}, "y2": {"field": "hi"}}},
            {"mark": {"type": "tick", "color": "#000", "thickness": 1.3, "size": 8}, "encoding": {"y": {"field": "hi", "type": "quantitative"}}},
            {"data": {"values": [{"g": "Control", "y": 108.6, "o": 1}, {"g": "Control", "y": 111.4, "o": 2}, {"g": "TMX1 kd", "y": 111.4, "o": 3}, {"g": "TMX1 kd", "y": 108.6, "o": 4}]},
             "mark": {"type": "line", "color": "#000", "strokeWidth": 1.2},
             "encoding": {"x": {"field": "g", "type": "nominal", "sort": null}, "y": {"field": "y", "type": "quantitative"}, "order": {"field": "o", "type": "quantitative"}}},
            {"data": {"values": [{"g": "Control", "y": 112.5, "t": "*"}]},
             "mark": {"type": "text", "baseline": "bottom", "fontSize": 9, "dx": 3, "color": "#000"},
             "encoding": {"x": {"field": "g", "type": "nominal", "sort": null, "bandPosition": 1}, "y": {"field": "y", "type": "quantitative"}, "text": {"field": "t"}}},
            {"data": {"values": [{"g": "TMX1 kd + catalase", "y": 119, "t": "Mel Juso"}]},
             "mark": {"type": "text", "align": "right", "baseline": "middle", "fontWeight": "bold", "fontSize": 8.5, "dx": 9, "color": "#000"},
             "encoding": {"x": {"field": "g", "type": "nominal", "sort": null, "bandPosition": 1}, "y": {"field": "y", "type": "quantitative"}, "text": {"field": "t"}}}
           ]
          }
         ],
         "spacing": 116, "bounds": "flush",
         "resolve": {"scale": {"color": "independent"}, "legend": {"color": "independent"}}
        },
        {
         "hconcat": [
          {
           "width": 131, "height": 132,
           "title": {"text": "M", "offset": 8},
           "data": {"values": [
            {"g": "Control", "v": 0.498, "hi": 0.512, "s": ""},
            {"g": "Control + NAC", "v": 0.184, "hi": 0.2, "s": "***"},
            {"g": "TMX1 kd", "v": 0.711, "hi": 0.723, "s": ""},
            {"g": "TMX1 kd + NAC", "v": 0.314, "hi": 0.324, "s": "***"},
            {"g": "TMX1 kd + catalase", "v": 0.283, "hi": 0.291, "s": "***"},
            {"g": "TMX1 kd + DTT", "v": 0.302, "hi": 0.312, "s": "***"}
           ]},
           "encoding": {"x": {"field": "g", "type": "nominal", "sort": null, "scale": {"paddingInner": 0.33, "paddingOuter": 0.12}, "axis": {"title": null, "labelAngle": 45, "labelFontSize": 10, "labelColor": "#333", "labelPadding": 3}}},
           "layer": [
            {"mark": {"type": "bar", "stroke": "#000", "strokeWidth": 1.2}, "encoding": {"y": {"field": "v", "type": "quantitative", "scale": {"domain": [0, 0.8], "nice": false}, "axis": {"title": "Cellular H₂O₂ (Ratio 505/420)", "values": [0, 0.2, 0.4, 0.6, 0.8], "tickCount": 20, "labelFontSize": 10, "labelExpr": "datum.value == 0 ? '0' : format(datum.value, '.1f')"}}, "color": {"field": "g", "type": "nominal", "scale": {"domain": ["Control", "Control + NAC", "TMX1 kd", "TMX1 kd + NAC", "TMX1 kd + catalase", "TMX1 kd + DTT"], "range": ["#333333", "#8a8a8a", "#fb0b0b", "#f6a3a6", "#fde0e0", "#fde0e0"]}, "legend": null}}},
            {"mark": {"type": "rule", "color": "#000", "strokeWidth": 1.3}, "encoding": {"y": {"field": "v", "type": "quantitative"}, "y2": {"field": "hi"}}},
            {"mark": {"type": "tick", "color": "#000", "thickness": 1.3, "size": 8}, "encoding": {"y": {"field": "hi", "type": "quantitative"}}},
            {"mark": {"type": "text", "baseline": "bottom", "fontSize": 8, "dy": 0, "color": "#000"}, "encoding": {"y": {"field": "hi", "type": "quantitative"}, "text": {"field": "s"}}},
            {"data": {"values": [{"g": "Control", "y": 0.74, "o": 1}, {"g": "Control", "y": 0.78, "o": 2}, {"g": "TMX1 kd", "y": 0.78, "o": 3}, {"g": "TMX1 kd", "y": 0.74, "o": 4}]},
             "mark": {"type": "line", "color": "#000", "strokeWidth": 1.2},
             "encoding": {"x": {"field": "g", "type": "nominal", "sort": null}, "y": {"field": "y", "type": "quantitative"}, "order": {"field": "o", "type": "quantitative"}}},
            {"data": {"values": [{"g": "Control + NAC", "y": 0.785, "t": "***"}]},
             "mark": {"type": "text", "baseline": "bottom", "fontSize": 8, "color": "#000"},
             "encoding": {"x": {"field": "g", "type": "nominal", "sort": null}, "y": {"field": "y", "type": "quantitative"}, "text": {"field": "t"}}},
            {"data": {"values": [{"g": "TMX1 kd + DTT", "y": 0.79, "t": "WM3734"}]},
             "mark": {"type": "text", "align": "right", "baseline": "middle", "fontWeight": "bold", "fontSize": 8.5, "dx": 3, "color": "#000"},
             "encoding": {"x": {"field": "g", "type": "nominal", "sort": null, "bandPosition": 1}, "y": {"field": "y", "type": "quantitative"}, "text": {"field": "t"}}}
           ]
          },
          {
           "width": 71, "height": 132,
           "title": {"text": "N", "offset": 14},
           "data": {"values": [
            {"g": "Control", "v": 0.1073, "hi": 0.110},
            {"g": "TMX1 kd", "v": 0.075, "hi": 0.087},
            {"g": "TMX3 kd", "v": 0.0514, "hi": 0.0673}
           ]},
           "encoding": {"x": {"field": "g", "type": "nominal", "sort": null, "scale": {"paddingInner": 0.35, "paddingOuter": 0.2}, "axis": {"title": null, "labelAngle": 45, "labelFontSize": 10, "labelColor": "#333", "labelPadding": 3}}},
           "layer": [
            {"mark": {"type": "bar", "stroke": "#000", "strokeWidth": 1.2}, "encoding": {"y": {"field": "v", "type": "quantitative", "scale": {"domain": [0, 0.15], "nice": false}, "axis": {"title": "Calcineurin Activity (OD 630 nm)", "values": [0, 0.05, 0.1, 0.15], "tickCount": 20, "labelFontSize": 10, "labelExpr": "datum.value == 0 ? '0' : format(datum.value, '.2f')"}}, "color": {"field": "g", "type": "nominal", "scale": {"domain": ["Control", "TMX1 kd", "TMX3 kd"], "range": ["#333333", "#fb0b0b", "#f8a13c"]}, "legend": null}}},
            {"mark": {"type": "rule", "color": "#000", "strokeWidth": 1.3}, "encoding": {"y": {"field": "v", "type": "quantitative"}, "y2": {"field": "hi"}}},
            {"mark": {"type": "tick", "color": "#000", "thickness": 1.3, "size": 8}, "encoding": {"y": {"field": "hi", "type": "quantitative"}}},
            {"data": {"values": [{"g": "TMX3 kd", "y": 0.15, "t": "WM3734"}]},
             "mark": {"type": "text", "align": "right", "baseline": "middle", "fontWeight": "bold", "fontSize": 8.5, "dx": 4, "color": "#000"},
             "encoding": {"x": {"field": "g", "type": "nominal", "sort": null, "bandPosition": 1}, "y": {"field": "y", "type": "quantitative"}, "text": {"field": "t"}}}
           ]
          }
         ],
         "spacing": 134, "bounds": "flush",
         "resolve": {"scale": {"color": "independent"}, "legend": {"color": "independent"}}
        }
       ]
      }
     ]
    }
   ]
  }
 ]
}
